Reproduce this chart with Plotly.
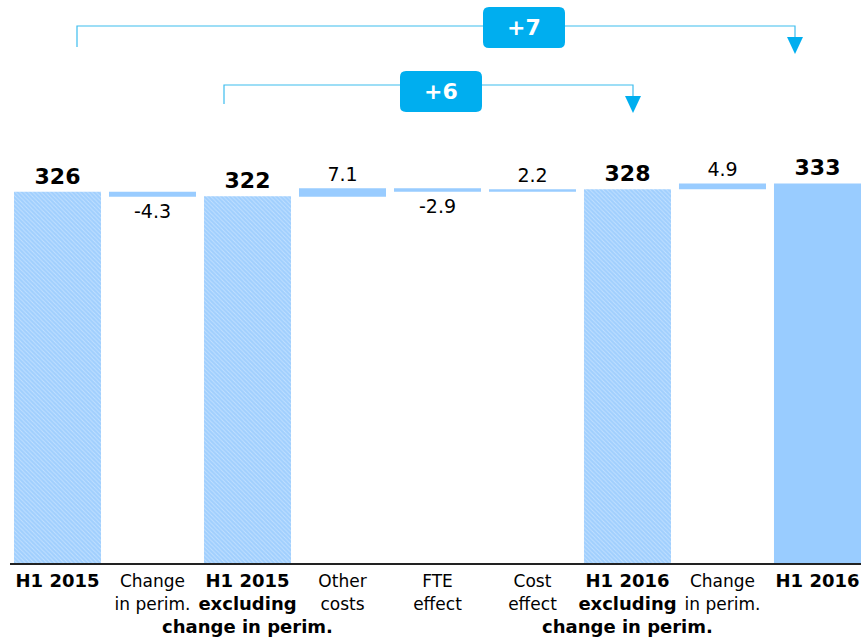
import plotly.graph_objects as go

# ---------------- data ----------------
categories = ["H1 2015", "Change in perim.", "H1 2015 excluding change in perim.",
              "Other costs", "FTE effect", "Cost effect",
              "H1 2016 excluding change in perim.", "Change in perim.", "H1 2016"]
tick_labels = [
    "<b>H1 2015</b>",
    "<span style='font-size:17px'>Change<br>in perim.</span>",
    "<b>H1 2015<br>excluding<br>change in perim.</b>",
    "<span style='font-size:17px'>Other<br>costs</span>",
    "<span style='font-size:17px'>FTE<br>effect</span>",
    "<span style='font-size:17px'>Cost<br>effect</span>",
    "<b>H1 2016<br>excluding<br>change in perim.</b>",
    "<span style='font-size:17px'>Change<br>in perim.</span>",
    "<b>H1 2016</b>",
]
total_idx = [0, 2, 6, 8]
total_values = [326, 322, 328, 333]
total_hatched = [True, True, True, False]
delta_idx = [1, 3, 4, 5, 7]
delta_values = [-4.3, 7.1, -2.9, 2.2, 4.9]
bracket_labels = ["+7", "+6"]

# running bases for the delta bars
delta_base = []
running = total_values[0]
for v in delta_values:
    delta_base.append(running)
    running += v

BAR = "#99CCFF"
HATCH_BG = "#A0CFFE"
HATCH_FG = "#C4E1FF"
CYAN = "#00AEEF"
LINE = "#3DBDEE"
FONT = "DejaVu Sans"
BW = 0.916

W, H = 861, 638
# plot area in page pixels
PL, PR, PT, PB = 10, 861, 0, 563


def px(x):
    return (x - PL) / (PR - PL)


def py(y):
    return (PB - y) / (PB - PT)


fig = go.Figure()

fig.add_trace(go.Bar(
    x=total_idx, y=total_values, width=[BW] * len(total_idx),
    marker=dict(color=BAR, line=dict(width=0),
                pattern=dict(shape=["\\" if h else "" for h in total_hatched],
                             fgcolor=HATCH_FG, bgcolor=HATCH_BG, size=3, solidity=0.3,
                             fillmode="replace")),
    text=[f"<b>{v}</b>" for v in total_values], textposition="outside",
    textfont=dict(family=FONT, size=22, color="#000"), constraintext="none",
    cliponaxis=False, showlegend=False, hoverinfo="skip",
))

fig.add_trace(go.Bar(
    x=delta_idx, y=delta_values, base=delta_base, width=[BW] * len(delta_idx),
    marker=dict(color=BAR, line=dict(width=0)),
    text=[f"{v}" for v in delta_values], textposition="outside",
    textfont=dict(family=FONT, size=19, color="#000"), constraintext="none",
    cliponaxis=False, showlegend=False, hoverinfo="skip",
))

shapes = []
annotations = []


def rounded_rect(x0, y0, x1, y1, r):
    def P(x, y):
        return f"{px(x):.5f},{py(y):.5f}"
    path = (f"M {P(x0 + r, y0)} L {P(x1 - r, y0)} Q {P(x1, y0)} {P(x1, y0 + r)} "
            f"L {P(x1, y1 - r)} Q {P(x1, y1)} {P(x1 - r, y1)} L {P(x0 + r, y1)} "
            f"Q {P(x0, y1)} {P(x0, y1 - r)} L {P(x0, y0 + r)} Q {P(x0, y0)} {P(x0 + r, y0)} Z")
    return path


brackets = [
    dict(xl=77, xr=795, yh=26, yl=47, ya0=37, ya1=54, box=(483, 7, 565, 48), label=bracket_labels[0]),
    dict(xl=224, xr=633, yh=85, yl=104, ya0=96, ya1=113, box=(400, 71, 482, 112), label=bracket_labels[1]),
]
for b in brackets:
    path = (f"M {px(b['xl'])},{py(b['yl'])} L {px(b['xl'])},{py(b['yh'])} "
            f"L {px(b['xr'])},{py(b['yh'])} L {px(b['xr'])},{py(b['ya0'])}")
    shapes.append(dict(type="path", xref="paper", yref="paper", path=path,
                       line=dict(color=LINE, width=1.2)))
    tri = (f"M {px(b['xr'] - 8)},{py(b['ya0'])} L {px(b['xr'] + 8)},{py(b['ya0'])} "
           f"L {px(b['xr'])},{py(b['ya1'])} Z")
    shapes.append(dict(type="path", xref="paper", yref="paper", path=tri,
                       fillcolor=CYAN, line=dict(width=0)))
    x0, y0, x1, y1 = b["box"]
    shapes.append(dict(type="path", xref="paper", yref="paper",
                       path=rounded_rect(x0, y0, x1, y1, 6),
                       fillcolor=CYAN, line=dict(width=0)))
    annotations.append(dict(xref="paper", yref="paper", x=px((x0 + x1) / 2), y=py((y0 + y1) / 2),
                            text=f"<b>{b['label']}</b>", showarrow=False,
                            font=dict(family=FONT, size=22, color="white"),
                            xanchor="center", yanchor="middle"))

fig.update_layout(
    width=W, height=H,
    margin=dict(l=PL, r=W - PR, t=PT, b=H - PB, autoexpand=False),
    paper_bgcolor="white", plot_bgcolor="white",
    barmode="overlay",
    shapes=shapes, annotations=annotations,
    font=dict(family=FONT, color="#000"),
    xaxis=dict(range=[-0.5, 8.458], tickmode="array",
               tickvals=list(range(len(categories))), ticktext=tick_labels,
               tickfont=dict(family=FONT, size=18, color="#000"),
               tickangle=0, automargin=False,
               showgrid=False, zeroline=False, showline=True,
               linecolor="#222", linewidth=2, ticks="", fixedrange=True),
    yaxis=dict(range=[8.6, 489.8], visible=False, showgrid=False, zeroline=False,
               fixedrange=True),
)

fig.write_html("out.html", config={"displayModeBar": False},
               post_script="document.body.style.margin='0px';document.body.style.overflow='hidden';")
